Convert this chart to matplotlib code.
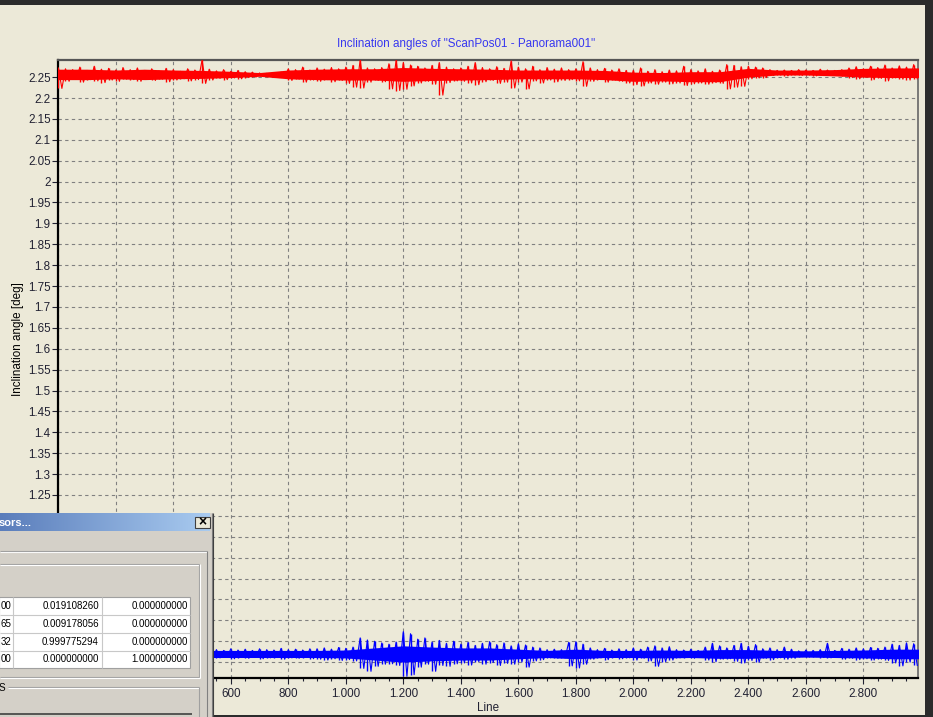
import numpy as np
import matplotlib
matplotlib.use('Agg')
import matplotlib.pyplot as plt
from matplotlib.ticker import MultipleLocator, FuncFormatter
from matplotlib.patches import Rectangle
from matplotlib.colors import LinearSegmentedColormap

# ---------------- data ----------------
title = 'Inclination angles of "ScanPos01 - Panorama001"'
y_label = 'Inclination angle [deg]'
x_label = 'Line'

# dense core band of each trace (every 100 lines, 0..3000)
core_lines = list(range(0, 3001, 100))
red_core_hi = [2.269, 2.269, 2.267, 2.269, 2.267, 2.266, 2.264, 2.261, 2.267, 2.269,
               2.270, 2.270, 2.273, 2.271, 2.270, 2.269, 2.267, 2.267, 2.267, 2.266,
               2.262, 2.261, 2.263, 2.263, 2.271, 2.267, 2.267, 2.268, 2.271, 2.272, 2.272]
red_core_lo = [2.244, 2.244, 2.246, 2.244, 2.246, 2.247, 2.249, 2.252, 2.246, 2.244,
               2.243, 2.243, 2.240, 2.242, 2.243, 2.244, 2.246, 2.246, 2.246, 2.244,
               2.240, 2.241, 2.239, 2.239, 2.250, 2.255, 2.255, 2.253, 2.250, 2.249, 2.249]
blue_core_hi = [0.878, 0.878, 0.878, 0.878, 0.878, 0.878, 0.878, 0.878, 0.878, 0.878,
                0.879, 0.884, 0.889, 0.886, 0.884, 0.884, 0.881, 0.878, 0.881, 0.878,
                0.878, 0.879, 0.878, 0.880, 0.880, 0.878, 0.877, 0.878, 0.879, 0.881, 0.881]
blue_core_lo = [0.861, 0.861, 0.861, 0.861, 0.861, 0.861, 0.861, 0.861, 0.861, 0.861,
                0.860, 0.855, 0.850, 0.853, 0.855, 0.855, 0.858, 0.861, 0.858, 0.861,
                0.861, 0.860, 0.861, 0.859, 0.859, 0.861, 0.862, 0.861, 0.860, 0.858, 0.858]

# spike extremes (every 25 lines, 0..2975)
spike_lines = list(range(0, 3000, 25))
red_hi = [2.272, 2.270, 2.268, 2.274, 2.266, 2.276, 2.269, 2.271, 2.267, 2.273,
          2.268, 2.272, 2.266, 2.270, 2.265, 2.271, 2.268, 2.264, 2.270, 2.267,
          2.291, 2.269,
          2.265, 2.268, 2.264, 2.266, 2.263, 2.262,
          2.260, 2.259, 2.260, 2.262,
          2.270, 2.268, 2.274, 2.267, 2.272, 2.269, 2.273, 2.270,
          2.274, 2.278, 2.291, 2.272, 2.270, 2.273,
          2.282, 2.291, 2.285, 2.279,
          2.276, 2.272, 2.278, 2.285, 2.274, 2.270,
          2.272, 2.276, 2.285, 2.273, 2.270, 2.275, 2.271, 2.289,
          2.274, 2.270, 2.276, 2.268, 2.273, 2.269, 2.272, 2.268,
          2.270, 2.287, 2.272, 2.268, 2.271, 2.267, 2.270, 2.266,
          2.266, 2.272, 2.264, 2.268, 2.263, 2.267, 2.265,
          2.276, 2.268, 2.265, 2.270, 2.264, 2.267,
          2.280, 2.278, 2.275,
          2.276, 2.274, 2.272,
          2.268, 2.266, 2.267, 2.266, 2.268, 2.267, 2.266, 2.269, 2.267, 2.266, 2.268,
          2.272, 2.275, 2.270, 2.276, 2.273, 2.279, 2.272, 2.277, 2.274, 2.280]
red_lo = [2.223, 2.240, 2.245, 2.238, 2.244, 2.241, 2.237, 2.243, 2.240, 2.245,
          2.244, 2.240, 2.246, 2.242, 2.245, 2.239, 2.243, 2.246, 2.241, 2.244,
          2.235, 2.243,
          2.247, 2.244, 2.248, 2.246, 2.249, 2.250,
          2.252, 2.253, 2.251, 2.250,
          2.242, 2.245, 2.238, 2.243, 2.240, 2.244, 2.239, 2.242,
          2.235, 2.226, 2.224, 2.238, 2.242, 2.239,
          2.222, 2.218, 2.221, 2.229,
          2.236, 2.240, 2.233, 2.207, 2.237, 2.241,
          2.240, 2.236, 2.232, 2.239, 2.242, 2.235, 2.238, 2.224,
          2.238, 2.222, 2.241, 2.236, 2.243, 2.239, 2.242, 2.244,
          2.241, 2.228, 2.240, 2.244, 2.238, 2.243, 2.240, 2.236,
          2.232, 2.229, 2.236, 2.233, 2.238, 2.234, 2.236,
          2.230, 2.234, 2.236, 2.233, 2.237, 2.235,
          2.222, 2.226, 2.228,
          2.246, 2.248, 2.249,
          2.254, 2.255, 2.253, 2.255, 2.254, 2.255, 2.253, 2.254, 2.255, 2.254, 2.253,
          2.249, 2.246, 2.250, 2.244, 2.247, 2.241, 2.248, 2.245, 2.243, 2.246]
blue_hi = [0.881, 0.880, 0.882, 0.879, 0.881, 0.880, 0.882, 0.879, 0.881, 0.880,
           0.881, 0.879, 0.882, 0.880, 0.881, 0.879, 0.880, 0.882, 0.879, 0.881,
           0.887, 0.880,
           0.880, 0.878, 0.882, 0.879, 0.881, 0.878, 0.882, 0.880, 0.879, 0.883, 0.880, 0.881, 0.879, 0.882,
           0.882, 0.884, 0.881, 0.885, 0.883, 0.886,
           0.908, 0.903, 0.900, 0.896,
           0.893, 0.898,
           0.923, 0.918,
           0.905, 0.908, 0.898, 0.902, 0.895, 0.900,
           0.893, 0.897, 0.890, 0.895, 0.899, 0.892, 0.896, 0.889, 0.894, 0.891,
           0.886, 0.884, 0.880, 0.881,
           0.880, 0.897, 0.899, 0.893,
           0.884, 0.880, 0.883, 0.879, 0.882, 0.880, 0.884, 0.881,
           0.886, 0.889, 0.884, 0.887,
           0.880, 0.879, 0.881, 0.878,
           0.886, 0.895, 0.889, 0.884,
           0.890, 0.895, 0.888, 0.892,
           0.882, 0.884, 0.880, 0.886, 0.881,
           0.877, 0.879, 0.878, 0.880, 0.895, 0.878,
           0.883, 0.881, 0.884, 0.882, 0.885, 0.883, 0.886,
           0.893, 0.890, 0.896, 0.894]
blue_lo = [0.858, 0.859, 0.857, 0.860, 0.858, 0.859, 0.857, 0.860, 0.858, 0.859,
           0.858, 0.860, 0.857, 0.859, 0.858, 0.860, 0.859, 0.857, 0.860, 0.858,
           0.828, 0.859,
           0.860, 0.862, 0.858, 0.861, 0.859, 0.862, 0.858, 0.860, 0.861, 0.857, 0.860, 0.859, 0.861, 0.858,
           0.857, 0.855, 0.858, 0.854, 0.856, 0.853,
           0.835, 0.828, 0.840, 0.845,
           0.846, 0.842,
           0.816, 0.820,
           0.838, 0.845, 0.828, 0.842, 0.840, 0.846,
           0.848, 0.843, 0.851, 0.845, 0.849, 0.842, 0.847, 0.845, 0.850, 0.838,
           0.853, 0.856, 0.860, 0.859,
           0.860, 0.841, 0.836, 0.845,
           0.857, 0.860, 0.856, 0.861, 0.858, 0.860, 0.855, 0.859,
           0.853, 0.840, 0.851, 0.855,
           0.860, 0.861, 0.859, 0.862,
           0.855, 0.851, 0.857, 0.858,
           0.852, 0.848, 0.854, 0.850,
           0.859, 0.856, 0.860, 0.857, 0.859,
           0.863, 0.862, 0.863, 0.861, 0.860, 0.862,
           0.857, 0.859, 0.856, 0.858, 0.855, 0.857, 0.854,
           0.848, 0.841, 0.850, 0.842]

# dialog table
dlg_title = 'sors...'
col0 = ['00', '65', '32', '00']
col1 = ['0.019108260', '0.009178056', '0.999775294', '0.000000000']
col2 = ['0.000000000', '0.000000000', '0.000000000', '1.000000000']

# ---------------- figure ----------------
W, H, DPI = 933, 717, 100
BG = '#ECE9D8'
plt.rcParams['font.family'] = ['Liberation Sans', 'DejaVu Sans']
FS = 8.4

fig = plt.figure(figsize=(W / DPI, H / DPI), dpi=DPI, facecolor=BG)
L, R, T, B = 58.3, 918, 60, 678
ax = fig.add_axes([L / W, 1 - B / H, (R - L) / W, (B - T) / H], facecolor=BG)

sx = np.array(spike_lines, dtype=float)
for hi, lo, chi, clo, col in [(red_hi, red_lo, red_core_hi, red_core_lo, '#FF0000'),
                              (blue_hi, blue_lo, blue_core_hi, blue_core_lo, '#0000FF')]:
    ax.fill_between(core_lines, clo, chi, color=col, lw=0, zorder=3)
    ax.vlines(sx, lo, hi, color=col, lw=1.0, zorder=4)
    zx = np.column_stack([sx, sx + 12.5]).ravel()
    zy = np.column_stack([hi, lo]).ravel()
    ax.plot(zx, zy, color=col, lw=0.8, zorder=4)

ax.set_xlim(0, 2990)
ax.set_ylim(0.812, 2.291)
ax.xaxis.set_major_locator(MultipleLocator(200))
ax.xaxis.set_minor_locator(MultipleLocator(50))
ax.yaxis.set_major_locator(MultipleLocator(0.05))

# labels lying under the dialog window are not visible in the screenshot
def xfmt(v, p):
    if v < 500:
        return ''
    return f"{int(round(v)):,}".replace(',', '.')

def yfmt(v, p):
    if v < 1.24:
        return ''
    return f"{round(v, 2):g}"

ax.xaxis.set_major_formatter(FuncFormatter(xfmt))
ax.yaxis.set_major_formatter(FuncFormatter(yfmt))
ax.tick_params(axis='both', which='major', direction='out', length=4, width=0.8,
               colors='#222233', labelsize=FS)
ax.tick_params(axis='y', pad=1.5)
ax.tick_params(axis='x', pad=3.5)
ax.tick_params(axis='x', which='minor', direction='out', length=2.5, width=0.8, colors='#222233')
ax.grid(True, which='major', color='#808080', linestyle=(0, (3, 3)), lw=0.8)
ax.set_axisbelow(True)
ax.spines['left'].set_color('black'); ax.spines['left'].set_linewidth(1.6)
ax.spines['bottom'].set_color('black'); ax.spines['bottom'].set_linewidth(1.6)
ax.spines['top'].set_color('#555555'); ax.spines['top'].set_linewidth(1.6)
ax.spines['right'].set_color('#666666'); ax.spines['right'].set_linewidth(1.2)

fig.text(466.5 / W, 1 - 44 / H, title, color='#3737F0', fontsize=FS, ha='center', va='center')
fig.text(18 / W, 1 - 339 / H, y_label, color='black', fontsize=FS, rotation=90,
         ha='center', va='center')
fig.text(488 / W, 1 - 708 / H, x_label, color='#222233', fontsize=FS, ha='center', va='center')

# ---------------- window chrome overlay ----------------
ov = fig.add_axes([0, 0, 1, 1])
ov.set_zorder(10)
ov.patch.set_visible(False)
ov.axis('off')

def rect(x, y, w, h, fc, ec='none', lw=0, z=2):
    ov.add_patch(Rectangle((x, y), w, h, facecolor=fc, edgecolor=ec, linewidth=lw, zorder=z))

def hline(y, x0, x1, c, lw=0.8, z=4):
    ov.plot([x0, x1], [y, y], color=c, lw=lw, zorder=z, solid_capstyle='butt')

def vline(x, y0, y1, c, lw=0.8, z=4):
    ov.plot([x, x], [y0, y1], color=c, lw=lw, zorder=z, solid_capstyle='butt')

rect(0, 0, W, 5, '#2B2B2B')
rect(925, 0, 8, H, '#2B2B2B')
rect(213, 715, 712, 2, '#2B2B2B')

# dialog body
rect(-2, 513, 215, 206, '#D4D0C8')
vline(211.5, 513, 717, '#808080')
vline(212.6, 513, 717, '#404040')
cmap = LinearSegmentedColormap.from_list('tb', ['#5A7DBB', '#A9CBF0'])
ov.imshow(np.linspace(0, 1, 256)[None, :], extent=[0, 210, 531, 513], cmap=cmap,
          aspect='auto', zorder=3, interpolation='bilinear')
ov.text(-1, 522.5, dlg_title, color='white', fontsize=8, fontweight='bold', ha='left',
        va='center', zorder=5)
rect(194.5, 516.5, 15, 11.5, '#ECE9D8', ec='#404040', lw=0.8, z=5)
ov.text(202, 522.5, '×', color='black', fontsize=10, fontweight='bold', ha='center',
        va='center', zorder=6)

hline(551.5, 0, 207, '#FFFFFF')
hline(550.5, 0, 207, '#A0A0A0')
vline(207, 551, 717, '#808080')
# group box 1
hline(564, 0, 199, '#A0A0A0'); hline(565, 0, 199, '#FFFFFF')
vline(199, 564, 677, '#A0A0A0'); vline(200, 564, 678, '#FFFFFF')
hline(677, 0, 199, '#A0A0A0'); hline(678, 0, 200, '#FFFFFF')
# table
rect(-1, 597, 191, 71, 'white', ec='#A0A0A0', lw=0.8, z=4)
for yy in [615, 633, 651]:
    hline(yy, 0, 190, '#C8C8C8', z=5)
for xx in [12.5, 101.5]:
    vline(xx, 597, 668, '#C8C8C8', z=5)
rows_y = [606, 624, 642, 659.5]
for i, yy in enumerate(rows_y):
    ov.text(11, yy, col0[i], fontsize=7.0, ha='right', va='center', color='black', zorder=6)
    ov.text(99, yy, col1[i], fontsize=7.0, ha='right', va='center', color='black', zorder=6)
    ov.text(188, yy, col2[i], fontsize=7.0, ha='right', va='center', color='black', zorder=6)
# group box 2
ov.text(-1, 688, 'S', fontsize=7.2, ha='left', va='center', color='black', zorder=6)
hline(687, 8, 199, '#A0A0A0'); hline(688, 8, 199, '#FFFFFF')
vline(199, 687, 717, '#A0A0A0')
hline(713.5, 0, 192, '#404040', lw=1.2)

ov.set_xlim(0, W)
ov.set_ylim(H, 0)

fig.savefig('out.png', dpi=DPI, facecolor=BG)
